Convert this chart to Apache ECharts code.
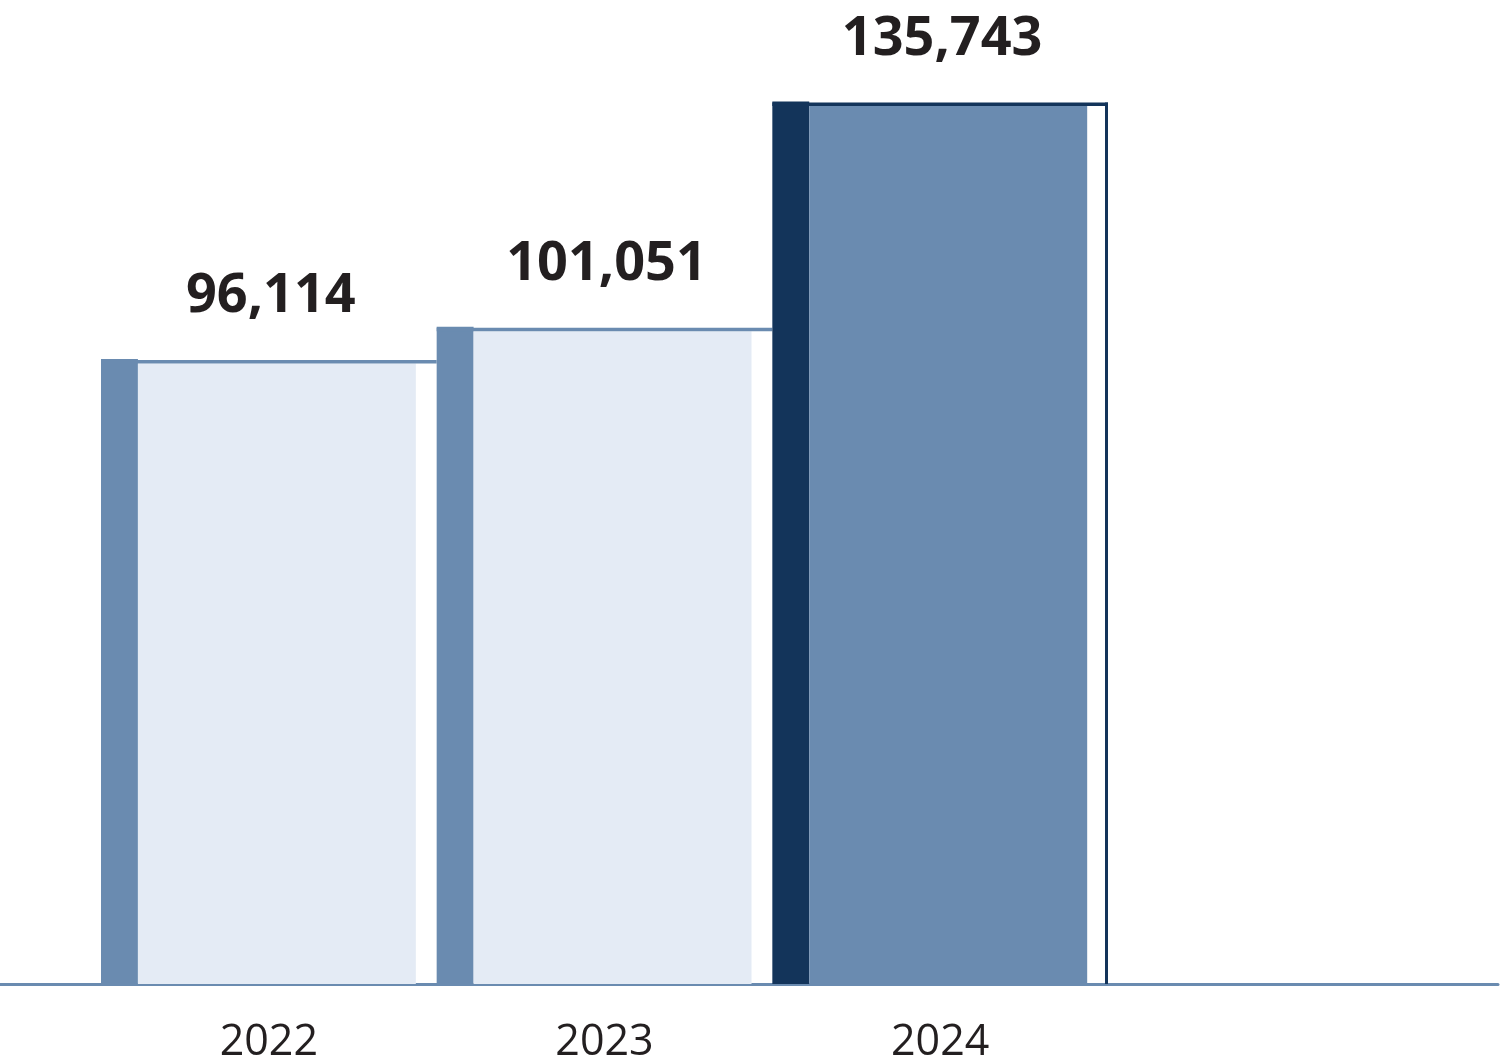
<!DOCTYPE html>
<html>
<head>
<meta charset="utf-8">
<script src="https://cdn.jsdelivr.net/npm/echarts@6/dist/echarts.min.js"></script>
<style>
html,body{margin:0;padding:0;background:#fff;}
#chart{width:1500px;height:1056px;}
</style>
</head>
<body>
<div id="chart"></div>
<script>
// ---- data ----
const categories = ['2022', '2023', '2024'];
const values = [96114, 101051, 135743];
const valueLabels = ['96,114', '101,051', '135,743'];

// ---- styles ----
const stripeColors = ['#6a8bb0', '#6a8bb0', '#13345a'];
const fillColors = ['#e4ebf5', '#e4ebf5', '#6a8bb0'];
const edgeColors = ['#6a8bb0', '#6a8bb0', '#13345a'];
const hasRightBorder = [false, false, true];

const chart = echarts.init(document.getElementById('chart'), null, {renderer: 'canvas'});

function renderItem(params, api) {
  const i = params.dataIndex;
  const v = api.value(1);
  const base = api.coord([i, 0]);
  const top = api.coord([i, v]);
  const band = api.size([1, 0])[0];
  const left = base[0] - band / 2;
  const topY = top[1];
  const baseY = base[1];
  const stripeW = band * 0.110;
  const fillW = band * 0.828;
  const lineH = 3.5;
  const children = [
    {type: 'rect', shape: {x: left, y: topY - 1, width: stripeW, height: baseY - topY + 1},
     style: {fill: stripeColors[i]}},
    {type: 'rect', shape: {x: left + stripeW, y: topY + lineH, width: fillW, height: baseY - topY - lineH},
     style: {fill: fillColors[i]}},
    {type: 'rect', shape: {x: left, y: topY, width: band, height: lineH},
     style: {fill: edgeColors[i]}}
  ];
  if (hasRightBorder[i]) {
    children.push({type: 'rect', shape: {x: left + band - 3, y: topY, width: 3, height: baseY - topY},
      style: {fill: edgeColors[i]}});
  }
  children.push({type: 'text', x: base[0] + 2, y: topY - 63,
    style: {text: valueLabels[i], fill: '#231f20', font: 'bold 54px "Open Sans"',
      align: 'center', verticalAlign: 'middle'}});
  return {type: 'group', children: children};
}

chart.setOption({
  animation: false,
  backgroundColor: '#ffffff',
  grid: [
    {left: 101, width: 1007, top: 10, bottom: 72, containLabel: false, outerBoundsMode: 'none'},
    {left: 0, right: 2, top: 10, bottom: 72, containLabel: false, outerBoundsMode: 'none'}
  ],
  xAxis: [
    {type: 'category', gridIndex: 0, data: categories,
     axisLine: {show: false}, axisTick: {show: false},
     axisLabel: {color: '#231f20', fontFamily: 'Open Sans', fontSize: 43, margin: 37}},
    {type: 'value', gridIndex: 1, min: 0, max: 1,
     axisLine: {show: true, onZero: false, lineStyle: {color: '#6a8bb0', width: 3}},
     axisTick: {show: false}, axisLabel: {show: false}, splitLine: {show: false}}
  ],
  yAxis: [
    {type: 'value', gridIndex: 0, min: 0, max: 150000, show: false, splitLine: {show: false}},
    {type: 'value', gridIndex: 1, min: 0, max: 1, show: false, splitLine: {show: false}}
  ],
  series: [
    {type: 'custom', xAxisIndex: 0, yAxisIndex: 0, renderItem: renderItem,
     data: values.map((v, i) => [i, v]), z: 2}
  ]
});
</script>
</body>
</html>
